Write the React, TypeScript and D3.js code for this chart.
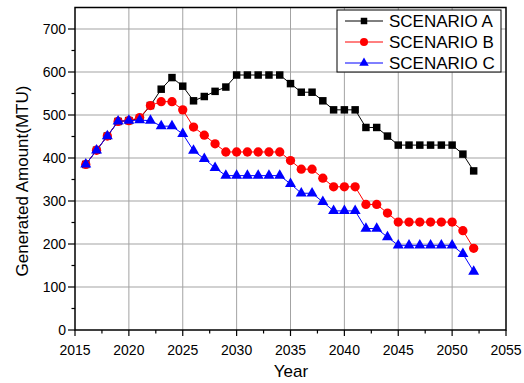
import React from "react";
import * as d3 from "d3";

const years = d3.range(2016, 2053);
const scenarioA = [385, 418, 451, 485, 487, 492, 522, 560, 587, 567, 533, 543, 555, 565, 593, 593, 593, 593, 593, 573, 553, 553, 533, 512, 512, 512, 471, 471, 451, 430, 430, 430, 430, 430, 430, 409, 370];
const scenarioB = [385, 418, 451, 485, 487, 494, 522, 531, 531, 512, 472, 453, 433, 414, 414, 414, 414, 414, 414, 394, 374, 374, 353, 333, 333, 333, 292, 292, 272, 251, 251, 251, 251, 251, 251, 231, 190];
const scenarioC = [385, 418, 451, 485, 487, 488, 487, 474, 474, 456, 417, 398, 377, 359, 359, 359, 359, 359, 359, 340, 318, 318, 298, 277, 277, 277, 236, 236, 216, 197, 197, 197, 197, 197, 197, 177, 136];
const seriesNames = ["SCENARIO A", "SCENARIO B", "SCENARIO C"];
const xTicks = [2015, 2020, 2025, 2030, 2035, 2040, 2045, 2050, 2055];
const yTicks = [0, 100, 200, 300, 400, 500, 600, 700];

const W = 524;
const H = 383;
const left = 75;
const right = 506;
const top = 7.5;
const bottom = 330;
const font = "'Liberation Sans', Arial, sans-serif";

const series = [
  { name: seriesNames[0], values: scenarioA, color: "#000000", symbol: d3.symbolSquare, size: 56 },
  { name: seriesNames[1], values: scenarioB, color: "#ff0000", symbol: d3.symbolCircle, size: 68 },
  { name: seriesNames[2], values: scenarioC, color: "#0000ff", symbol: d3.symbolTriangle, size: 52 },
];

export default function App() {
  const x = d3.scaleLinear().domain([2015, 2055]).range([left, right]);
  const y = d3.scaleLinear().domain([0, 750]).range([bottom, top]);
  const xMinor = d3.range(2017.5, 2055, 5);
  const yMinor = d3.range(50, 750, 100);
  const line = d3
    .line<number>()
    .x((_, i) => x(years[i]))
    .y((v) => y(v));

  const legendX = 337;
  const legendY = 10;
  const legendW = 164;
  const legendH = 62;

  return (
    <svg width={W} height={H} style={{ position: "absolute", left: 0, top: 0, background: "#fff" }}>
      {/* grid */}
      {xTicks.slice(1, -1).map((t) => (
        <line key={"gx" + t} x1={x(t)} x2={x(t)} y1={top} y2={bottom} stroke="#a3a3a3" strokeWidth={1} />
      ))}
      {yTicks.slice(1).map((t) => (
        <line key={"gy" + t} x1={left} x2={right} y1={y(t)} y2={y(t)} stroke="#a3a3a3" strokeWidth={1} />
      ))}

      {/* frame */}
      <rect x={left} y={top} width={right - left} height={bottom - top} fill="none" stroke="#000" strokeWidth={1.5} />

      {/* x ticks */}
      {xTicks.map((t) => (
        <g key={"xt" + t}>
          <line x1={x(t)} x2={x(t)} y1={bottom} y2={bottom + 6} stroke="#000" strokeWidth={1.2} />
          <text x={x(t)} y={355} textAnchor="middle" fontSize={14} fontFamily={font}>
            {t}
          </text>
        </g>
      ))}
      {xMinor.map((t) => (
        <line key={"xm" + t} x1={x(t)} x2={x(t)} y1={bottom} y2={bottom + 3.5} stroke="#000" strokeWidth={1.2} />
      ))}

      {/* y ticks */}
      {yTicks.map((t) => (
        <g key={"yt" + t}>
          <line x1={left - 7} x2={left} y1={y(t)} y2={y(t)} stroke="#000" strokeWidth={1.2} />
          <text x={66} y={y(t) + 5} textAnchor="end" fontSize={14} fontFamily={font}>
            {t}
          </text>
        </g>
      ))}
      {yMinor.map((t) => (
        <line key={"ym" + t} x1={left - 3.5} x2={left} y1={y(t)} y2={y(t)} stroke="#000" strokeWidth={1.2} />
      ))}

      {/* axis titles */}
      <text x={291} y={377} textAnchor="middle" fontSize={17} fontFamily={font}>
        Year
      </text>
      <text
        transform={`translate(28, 181) rotate(-90)`}
        textAnchor="middle"
        fontSize={17}
        fontFamily={font}
      >
        Generated Amount(MTU)
      </text>

      {/* series */}
      {series.map((s) => (
        <g key={s.name}>
          <path d={line(s.values) || ""} fill="none" stroke={s.color} strokeWidth={1} />
          {s.values.map((v, i) => (
            <path
              key={i}
              d={d3.symbol().type(s.symbol).size(s.size)() || ""}
              transform={`translate(${x(years[i])},${y(v)})`}
              fill={s.color}
            />
          ))}
        </g>
      ))}

      {/* legend */}
      <rect x={legendX} y={legendY} width={legendW} height={legendH} fill="#fff" stroke="#000" strokeWidth={1} />
      {series.map((s, i) => {
        const cy = 21 + i * 21;
        return (
          <g key={"lg" + s.name}>
            <line x1={345} x2={383} y1={cy} y2={cy} stroke={s.color} strokeWidth={1} />
            <path
              d={d3.symbol().type(s.symbol).size(s.size * 0.75)() || ""}
              transform={`translate(364,${cy})`}
              fill={s.color}
            />
            <text x={389} y={cy + 6} fontSize={17} fontFamily={font}>
              {s.name}
            </text>
          </g>
        );
      })}
    </svg>
  );
}
